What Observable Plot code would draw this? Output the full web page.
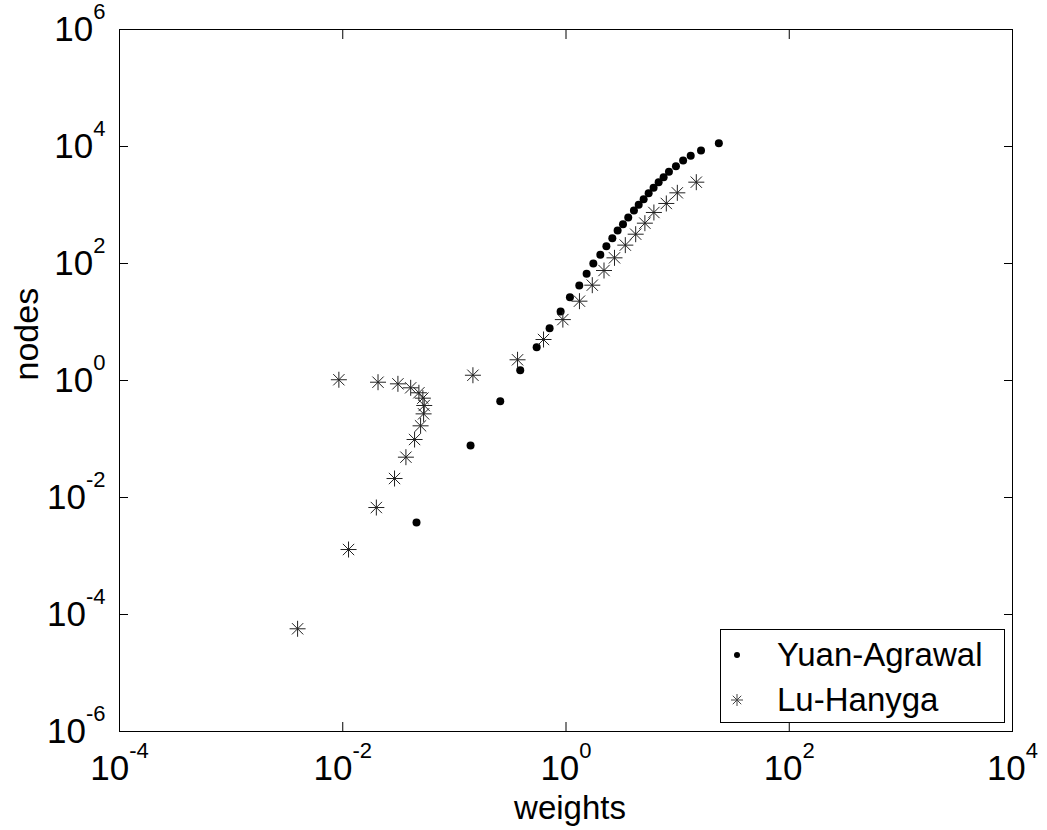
<!DOCTYPE html>
<html>
<head>
<meta charset="utf-8">
<script src="https://cdn.jsdelivr.net/npm/d3@7"></script>
<script src="https://cdn.jsdelivr.net/npm/@observablehq/plot@0.6"></script>
<style>
  body { margin: 0; background: #fff; }
  #wrap { position: relative; width: 1047px; height: 830px; }
</style>
</head>
<body>
<div id="wrap"></div>
<script>
const xTicks = [1e-4, 1e-2, 1, 1e2, 1e4];
const yTicks = [1e-6, 1e-4, 1e-2, 1, 1e2, 1e4, 1e6];
const seriesNames = ["Yuan-Agrawal", "Lu-Hanyga"];
const xTitle = "weights";
const yTitle = "nodes";

// Yuan-Agrawal (filled dots)
const weightsYA = [0.0458, 0.1396, 0.2576, 0.389, 0.546, 0.713, 0.895, 1.084, 1.315, 1.53,
  1.757, 2.03, 2.30, 2.60, 2.90, 3.24, 3.61, 4.06, 4.48, 4.96,
  5.50, 6.09, 6.76, 7.49, 8.36, 9.66, 11.2, 13.1, 16.2, 23.4];
const nodesYA = [0.00374, 0.0774, 0.443, 1.50, 3.71, 7.83, 15.1, 26.5, 42.1, 66.7,
  100, 141, 198, 271, 366, 470, 611, 805, 1007, 1259,
  1592, 1968, 2455, 2987, 3698, 4603, 5763, 6934, 8545, 11380];

// Lu-Hanyga (asterisks)
const weightsLH = [0.00394, 0.01127, 0.0200, 0.0291, 0.0368, 0.0440, 0.0498, 0.0530, 0.0537, 0.0522,
  0.0481, 0.0406, 0.0312, 0.0207, 0.00923, 0.1466, 0.368, 0.629, 0.937, 1.32,
  1.72, 2.19, 2.72, 3.40, 4.21, 5.09, 6.13, 7.92, 9.94, 14.7];
const nodesLH = [5.7e-5, 0.00129, 0.00674, 0.0211, 0.0489, 0.098, 0.168, 0.269, 0.374, 0.499,
  0.617, 0.75, 0.877, 0.935, 1.03, 1.23, 2.26, 5.02, 11.0, 22.7,
  42.6, 75.9, 125, 206, 317, 489, 745, 1062, 1615, 2455];

const dataYA = weightsYA.map((w, i) => ({w, n: nodesYA[i]}));
const dataLH = weightsLH.map((w, i) => ({w, n: nodesLH[i]}));

const star = {
  draw(ctx, size) {
    const r = Math.sqrt(size / Math.PI);
    const d = r * Math.SQRT1_2;
    ctx.moveTo(-r, 0); ctx.lineTo(r, 0);
    ctx.moveTo(0, -r); ctx.lineTo(0, r);
    ctx.moveTo(-d, -d); ctx.lineTo(d, d);
    ctx.moveTo(-d, d); ctx.lineTo(d, -d);
  }
};

const FONT = "'Liberation Sans', Arial, Helvetica, sans-serif";
const fmt = d => "10^" + Math.round(Math.log10(d));

const chart = Plot.plot({
  width: 1047,
  height: 830,
  marginLeft: 119,
  marginRight: 35,
  marginTop: 29,
  marginBottom: 99,
  style: {fontFamily: FONT, background: "#fff", color: "#000"},
  x: {type: "log", domain: [1e-4, 1e4]},
  y: {type: "log", domain: [1e-6, 1e6]},
  marks: [
    Plot.frame({stroke: "#000", strokeWidth: 1}),
    Plot.axisX({anchor: "bottom", ticks: xTicks, tickSize: -9, tickPadding: 33, tickFormat: fmt, fontSize: 35, label: null}),
    Plot.axisX({anchor: "top", ticks: xTicks, tickSize: -9, tickFormat: () => "", label: null}),
    Plot.axisY({anchor: "left", ticks: yTicks, tickSize: -9, tickPadding: 23, tickFormat: fmt, fontSize: 35, label: null}),
    Plot.axisY({anchor: "right", ticks: yTicks, tickSize: -9, tickFormat: () => "", label: null}),
    Plot.dot(dataYA, {x: "w", y: "n", r: 4, fill: "#000", stroke: "none"}),
    Plot.dot(dataLH, {x: "w", y: "n", r: 8, symbol: star, stroke: "#222", strokeWidth: 1, fill: "none"}),
    Plot.text([xTitle], {text: d => d, frameAnchor: "bottom", lineAnchor: "bottom", dy: 87, dx: 4, fontSize: 33, fill: "#000"}),
    Plot.text([yTitle], {text: d => d, frameAnchor: "left", lineAnchor: "bottom", rotate: -90, dx: -82, fontSize: 34, fill: "#000"})
  ]
});

// superscript exponents in tick labels
const ns = "http://www.w3.org/2000/svg";
chart.querySelectorAll('g[aria-label$="tick label"] text').forEach(t => {
  const s = t.textContent;
  if (!s.includes("^")) return;
  const [b, e] = s.split("^");
  t.textContent = "";
  const t1 = document.createElementNS(ns, "tspan");
  t1.textContent = b;
  const t2 = document.createElementNS(ns, "tspan");
  t2.setAttribute("dy", "-22");
  t2.setAttribute("font-size", "22");
  t2.textContent = e;
  t.appendChild(t1);
  t.appendChild(t2);
});

// legend inside the axes (bottom-right)
const svg = d3.select(chart);
const lg = svg.append("g").attr("font-family", FONT).attr("text-anchor", "start");
lg.append("rect").attr("x", 720.5).attr("y", 629.5).attr("width", 284).attr("height", 93)
  .attr("fill", "#fff").attr("stroke", "#000");
const rows = [
  {name: seriesNames[0], y: 655, sym: "dot"},
  {name: seriesNames[1], y: 700, sym: "star"}
];
rows.forEach(r => {
  if (r.sym === "dot") {
    lg.append("circle").attr("cx", 737).attr("cy", r.y).attr("r", 3).attr("fill", "#000");
  } else {
    lg.append("path").attr("transform", `translate(737,${r.y})`)
      .attr("d", d3.symbol(star, Math.PI * 36)()).attr("stroke", "#444").attr("fill", "none");
  }
  lg.append("text").attr("x", 777).attr("y", r.y + 11).attr("font-size", 33)
    .attr("text-anchor", "start").attr("fill", "#000").text(r.name);
});

document.getElementById("wrap").appendChild(chart);
</script>
</body>
</html>
